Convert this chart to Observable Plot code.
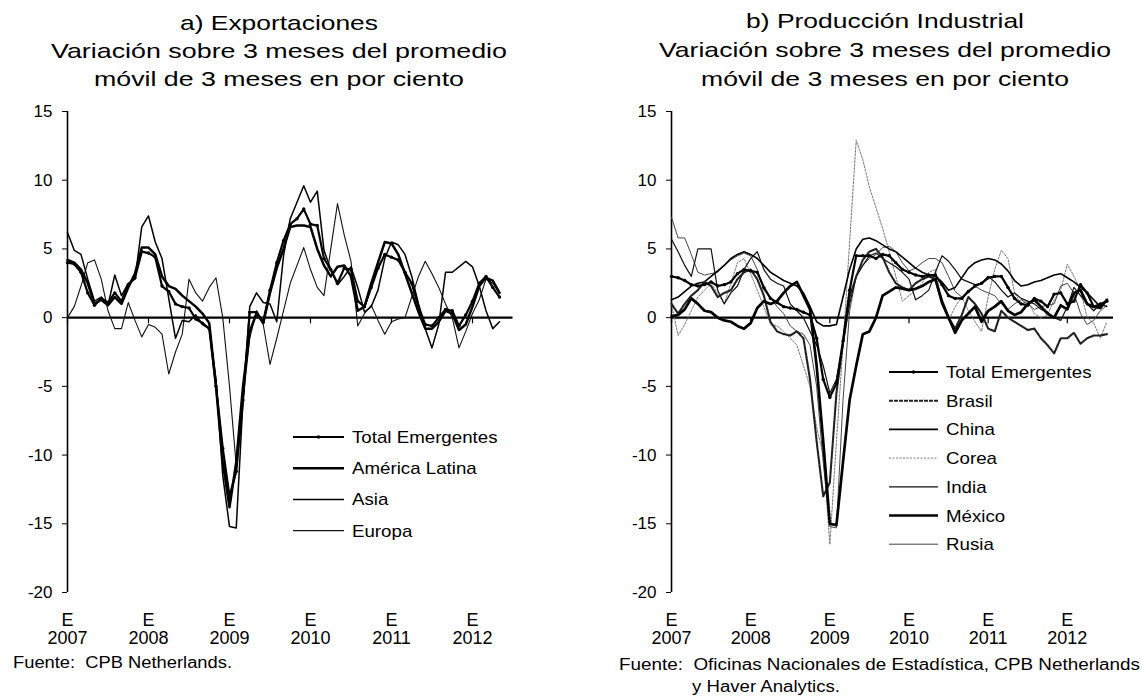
<!DOCTYPE html>
<html><head><meta charset="utf-8">
<script src="https://cdn.jsdelivr.net/npm/d3@7"></script>
<script src="https://cdn.jsdelivr.net/npm/@observablehq/plot@0.6"></script>
<style>
html,body{margin:0;padding:0;background:#fff;}
#page{position:relative;width:1142px;height:696px;overflow:hidden;background:#fff;font-family:'Liberation Sans',Arial,sans-serif;}
#pa{position:absolute;left:0;top:100px;}
#pb{position:absolute;left:571px;top:100px;}
#overlay{position:absolute;left:0;top:0;pointer-events:none;}
</style></head>
<body><div id="page"><div id="pa"></div><div id="pb"></div><svg id="overlay" width="1142" height="696"></svg></div>
<script>
// ---------- tick labels ----------
const yTicks = [-20, -15, -10, -5, 0, 5, 10, 15];
const yearTicks = [0, 12, 24, 36, 48, 60];          // month index of each January
const yearLabels = ["2007", "2008", "2009", "2010", "2011", "2012"];

// ---------- titles / notes ----------
const titleA = ["a) Exportaciones", "Variación sobre 3 meses del promedio", "móvil de 3 meses en por ciento"];
const titleB = ["b) Producción Industrial", "Variación sobre 3 meses del promedio", "móvil de 3 meses en por ciento"];
const noteA = ["Fuente:\u00a0 CPB Netherlands."];
const noteB = ["Fuente:\u00a0 Oficinas Nacionales de Estadística, CPB Netherlands", "y Haver Analytics."];

// ---------- panel a: Exportaciones (monthly, Jan 2007 - May 2012) ----------
const namesA = ["Total Emergentes", "América Latina", "Asia", "Europa"];
const aTotal = [4.0,3.9,3.3,1.8,0.9,1.4,1.1,1.8,1.2,2.4,
  2.9,4.8,4.7,4.4,2.3,1.9,1.0,0.8,0.7,-0.1,
  -0.4,-0.8,-5.0,-9.5,-13.0,-11.2,-6.0,0.4,0.4,-0.3,
  2.0,4.0,5.6,6.8,7.2,7.9,6.8,6.7,4.3,3.5,
  2.5,3.6,3.5,1.2,0.8,2.2,3.6,4.6,4.4,4.2,
  3.3,2.5,0.8,-0.5,-0.6,0.0,0.6,0.5,-0.6,0.2,
  1.2,2.5,3.0,2.2,1.5];
const aLatina = [4.2,4.0,3.5,2.5,1.0,1.3,0.9,1.5,1.0,2.2,
  3.2,5.1,5.1,4.6,3.0,2.3,2.1,1.6,1.2,0.8,
  0.3,-0.4,-5.0,-10.5,-13.8,-10.5,-5.0,-1.0,0.3,-0.4,
  1.8,3.6,5.0,6.6,6.7,6.7,6.6,5.0,3.8,3.0,
  3.7,3.8,3.0,0.5,0.8,2.5,4.0,5.5,5.4,4.6,
  3.2,1.8,0.4,-0.8,-0.8,-0.3,0.5,0.3,-0.9,-0.5,
  0.8,2.3,2.9,2.7,1.8];
const aAsia = [6.2,4.9,4.6,2.8,1.2,1.5,0.9,3.1,1.6,2.5,
  2.8,6.6,7.4,5.5,4.3,1.4,-1.5,-0.2,-0.3,0.2,
  -0.5,-0.8,-4.5,-11.5,-15.2,-15.3,-6.0,0.8,1.8,1.1,
  1.0,-0.3,4.5,7.2,8.4,9.6,8.4,9.2,4.9,3.5,
  2.4,3.0,3.7,2.2,0.4,0.8,2.0,4.3,5.5,5.3,
  4.6,3.0,1.0,-0.8,-2.2,-0.5,3.3,3.3,3.7,4.1,
  3.7,2.3,0.5,-0.8,-0.3];
const aEuropa = [0.0,0.8,2.3,4.0,4.2,2.8,0.5,-0.8,-0.8,1.1,
  -0.2,-1.4,-0.5,-0.7,-1.2,-4.1,-2.5,-1.2,2.8,1.8,
  1.2,2.2,2.9,0.0,-5.0,-10.8,-6.0,-1.5,0.5,-0.5,
  -3.4,-1.5,0.5,2.5,3.8,5.1,3.5,2.2,1.6,5.0,
  8.3,6.0,4.1,-0.6,0.3,0.9,-0.2,-1.2,-0.3,-0.1,
  0.0,1.5,3.0,4.1,3.2,2.2,1.0,0.0,-2.2,-1.0,
  0.3,1.3,2.8,2.5,1.8];

// ---------- panel b: Producción Industrial (monthly, Jan 2007 - Jul 2012) ----------
const namesB = ["Total Emergentes", "Brasil", "China", "Corea", "India", "México", "Rusia"];
const bTotal = [3.0,2.9,2.7,2.4,2.3,2.4,2.6,2.3,2.4,2.6,
  3.2,3.5,3.4,3.3,2.2,1.4,1.1,0.8,0.7,0.6,
  0.4,0.2,-1.5,-4.5,-5.8,-4.8,-1.7,2.0,4.5,4.5,
  4.5,4.3,4.6,4.5,4.0,3.5,3.3,3.1,3.0,3.1,
  3.1,2.4,1.6,1.4,1.4,1.9,2.3,2.5,2.9,3.0,
  3.0,2.2,1.4,1.0,0.9,1.4,1.2,0.8,1.7,1.8,
  1.0,1.2,2.4,1.8,0.8,1.0,1.2];
const bBrasil = [1.0,0.3,1.0,1.6,2.0,2.6,2.3,1.5,1.8,2.0,
  2.8,3.3,3.5,2.8,1.6,-0.3,-1.0,-1.2,-1.3,-1.0,
  -1.5,-4.5,-9.0,-13.0,-12.0,-5.5,-1.8,1.5,3.0,4.2,
  4.8,5.0,4.4,3.3,2.5,2.2,2.0,2.5,2.8,3.0,
  2.8,1.0,0.0,-0.8,0.2,1.5,1.0,0.3,-0.8,-1.0,
  0.5,0.0,-0.3,-0.6,-0.9,-0.8,-1.5,-2.0,-2.6,-1.5,
  -1.5,-1.1,-1.9,-1.5,-1.3,-1.3,-1.2];
const bChina = [1.3,1.5,1.9,2.3,2.5,2.6,3.0,3.4,3.8,4.3,
  4.6,4.8,4.6,4.3,3.8,3.3,3.0,2.7,2.5,2.3,
  1.8,0.8,-0.3,-0.6,-0.6,-0.5,1.5,3.5,5.0,5.7,
  5.8,5.6,5.3,5.0,4.8,4.4,4.0,3.6,3.3,3.1,
  3.0,2.6,2.0,2.2,2.9,3.6,4.0,4.2,4.3,4.2,
  3.9,3.4,2.7,2.3,2.4,2.6,2.7,2.9,3.1,3.2,
  2.9,2.6,2.2,1.8,1.3,0.8,1.3];
const bCorea = [1.0,-1.3,-0.5,0.5,1.5,2.0,2.5,1.8,1.0,2.5,
  4.0,4.3,3.2,2.0,0.8,-0.5,-0.6,-1.0,-1.5,-2.0,
  -3.5,-5.0,-8.0,-10.0,-16.5,-9.0,-2.0,5.5,12.9,11.5,
  9.5,8.0,6.5,4.8,3.0,1.2,1.6,2.0,2.5,3.3,
  3.5,1.0,-0.2,0.8,1.5,0.5,-0.3,-1.0,1.5,3.5,
  4.9,4.3,1.8,1.0,1.2,0.3,0.0,0.2,1.3,2.0,
  3.9,3.0,2.0,0.0,-0.4,-1.5,-0.3];
const bIndia = [5.7,4.8,3.8,3.0,5.0,5.0,5.0,2.0,1.0,1.8,
  2.3,3.5,4.3,4.8,3.5,2.8,2.5,2.3,1.0,0.5,
  0.0,-1.0,-2.0,-3.5,-5.5,-4.5,-2.0,1.0,3.0,3.8,
  4.5,4.7,4.3,4.0,3.7,3.3,2.8,1.3,1.6,2.0,
  3.3,4.5,4.1,3.5,2.8,2.6,2.4,2.5,3.0,2.6,
  2.0,1.5,1.8,1.4,1.2,1.0,0.6,0.4,0.0,-0.2,
  0.8,2.2,1.6,1.0,0.5,1.0,0.8];
const bMexico = [0.1,0.2,0.6,1.4,1.0,0.5,0.4,0.0,-0.2,-0.3,
  -0.6,-0.8,-0.4,0.7,1.2,1.0,1.2,1.8,2.3,2.6,
  1.6,0.6,-3.5,-9.0,-15.0,-15.1,-10.5,-6.0,-3.5,-1.2,
  -1.0,0.0,1.6,1.9,2.2,2.1,2.0,2.1,2.3,2.6,
  2.8,1.2,0.0,-1.1,-0.2,0.3,0.8,-0.3,0.5,0.8,
  1.2,0.5,0.2,0.4,1.0,1.3,0.8,0.3,0.0,0.9,
  0.6,1.8,2.0,1.0,0.8,0.7,1.3];
const bRusia = [7.3,5.8,5.8,4.6,3.3,3.1,3.2,3.3,3.8,4.2,
  4.5,4.7,4.5,3.5,2.0,1.5,0.8,0.3,-0.6,-1.0,
  -1.2,-2.0,-5.0,-10.5,-15.2,-15.3,-6.0,0.5,3.0,3.8,
  4.3,4.6,5.1,5.2,4.8,4.0,3.4,3.6,4.0,4.3,
  4.3,4.0,3.0,1.9,1.5,2.0,2.3,2.0,1.8,1.6,
  1.0,0.6,1.0,1.3,1.0,0.6,0.8,0.9,1.0,2.3,
  2.5,1.8,0.3,-0.5,-0.2,0.5,0.9];

// ---------- line styles (legend order) ----------
const stylesA = [
  {color:"#000", w:2.2, dots:true},
  {color:"#000", w:2.5},
  {color:"#000", w:1.5},
  {color:"#111", w:1.1}
];
const stylesB = [
  {color:"#000", w:2.2, dots:true},
  {color:"#222", w:2.1, dash:"4,1"},
  {color:"#000", w:1.6},
  {color:"#777", w:1.0, dash:"2,1.5"},
  {color:"#111", w:1.2},
  {color:"#000", w:2.7},
  {color:"#444", w:1.0}
];
const drawOrderA = [3, 2, 1, 0];
const drawOrderB = [3, 6, 4, 2, 1, 5, 0];

function makeTable(names, seriesList) {
  const rows = [];
  names.forEach((n, k) => seriesList[k].forEach((v, i) => rows.push({serie: n, mes: i, valor: v})));
  return rows;
}

function panel(el, names, series, styles, order, mL, mR, xMax) {
  const table = makeTable(names, series);
  const marks = [
    Plot.ruleX([0], {stroke: "#000", strokeWidth: 1.6}),
    Plot.ruleY([0], {stroke: "#000", strokeWidth: 2.2}),
    Plot.ruleX(yearTicks, {y1: 0, y2: -0.45, stroke: "#000", strokeWidth: 1.2}),
    Plot.axisY({ticks: yTicks, tickSize: 5, tickPadding: 10, fontSize: 17, tickFormat: d => String(d), label: null}),
    Plot.axisX({ticks: yearTicks, tickSize: 0, tickPadding: 21, fontSize: 18, label: null,
      tickFormat: d => "E\n" + yearLabels[yearTicks.indexOf(d)]})
  ];
  order.forEach(k => {
    const n = names[k], st = styles[k];
    marks.push(Plot.line(table, {filter: d => d.serie === n, x: "mes", y: "valor",
      stroke: st.color, strokeWidth: st.w, strokeDasharray: st.dash || null, strokeLinejoin: "round"}));
    if (st.dots) marks.push(Plot.dot(table, {filter: d => d.serie === n, x: "mes", y: "valor", r: 1.7, fill: st.color, stroke: "none"}));
  });
  const chart = Plot.plot({
    width: 571, height: 552,
    marginTop: 11, marginBottom: 60, marginLeft: mL, marginRight: mR,
    x: {domain: [0, xMax], label: null},
    y: {domain: [-20, 15], label: null},
    style: {fontFamily: "'Liberation Sans', Arial, sans-serif", fontSize: "17px", background: "transparent", color: "#000"},
    marks
  });
  el.appendChild(chart);
}

panel(document.getElementById("pa"), namesA, [aTotal, aLatina, aAsia, aEuropa], stylesA, drawOrderA, 67, 58.5, 66);
panel(document.getElementById("pb"), namesB, [bTotal, bBrasil, bChina, bCorea, bIndia, bMexico, bRusia], stylesB, drawOrderB, 100, 29, 67);

// ---------- overlay: titles, notes, legends ----------
const ov = d3.select("#overlay");
const FF = "'Liberation Sans', Arial, sans-serif";
function addText(x, y, s, fs, anchor, len, factor) {
  const t = ov.append("text").attr("x", x).attr("y", y).attr("font-size", fs)
    .attr("text-anchor", anchor).attr("font-family", FF).attr("fill", "#000").text(s);
  if (len) t.attr("textLength", len).attr("lengthAdjust", "spacingAndGlyphs");
  else if (factor) {
    const L = t.node().getComputedTextLength();
    t.attr("textLength", L * factor).attr("lengthAdjust", "spacingAndGlyphs");
  }
  return t;
}
// titles
[[30, 198], [58, 456], [86, 370]].forEach(([y, L], i) => addText(279, y, titleA[i], 21, "middle", L));
[[28, 278], [57, 452], [86, 368]].forEach(([y, L], i) => addText(885, y, titleB[i], 21, "middle", L));
// notes
addText(13, 668, noteA[0], 16, "start", 219);
addText(619, 670, noteB[0], 16, "start", 521);
addText(692, 692, noteB[1], 16, "start", 148);

function legend(names, styles, x1, x2, xt, y0, dy) {
  names.forEach((n, k) => {
    const y = y0 + k * dy, st = styles[k];
    ov.append("line").attr("x1", x1).attr("x2", x2).attr("y1", y).attr("y2", y)
      .attr("stroke", st.color).attr("stroke-width", st.w).attr("stroke-dasharray", st.dash || null);
    if (st.dots) ov.append("circle").attr("cx", (x1 + x2) / 2).attr("cy", y).attr("r", 1.8).attr("fill", st.color);
    addText(xt, y + 6, n, 17, "start", null, 1.1);
  });
}
legend(namesA, stylesA, 293, 344, 352, 437, 31.2);
legend(namesB, stylesB, 889, 938, 946, 372, 28.7);
</script>
</body></html>
